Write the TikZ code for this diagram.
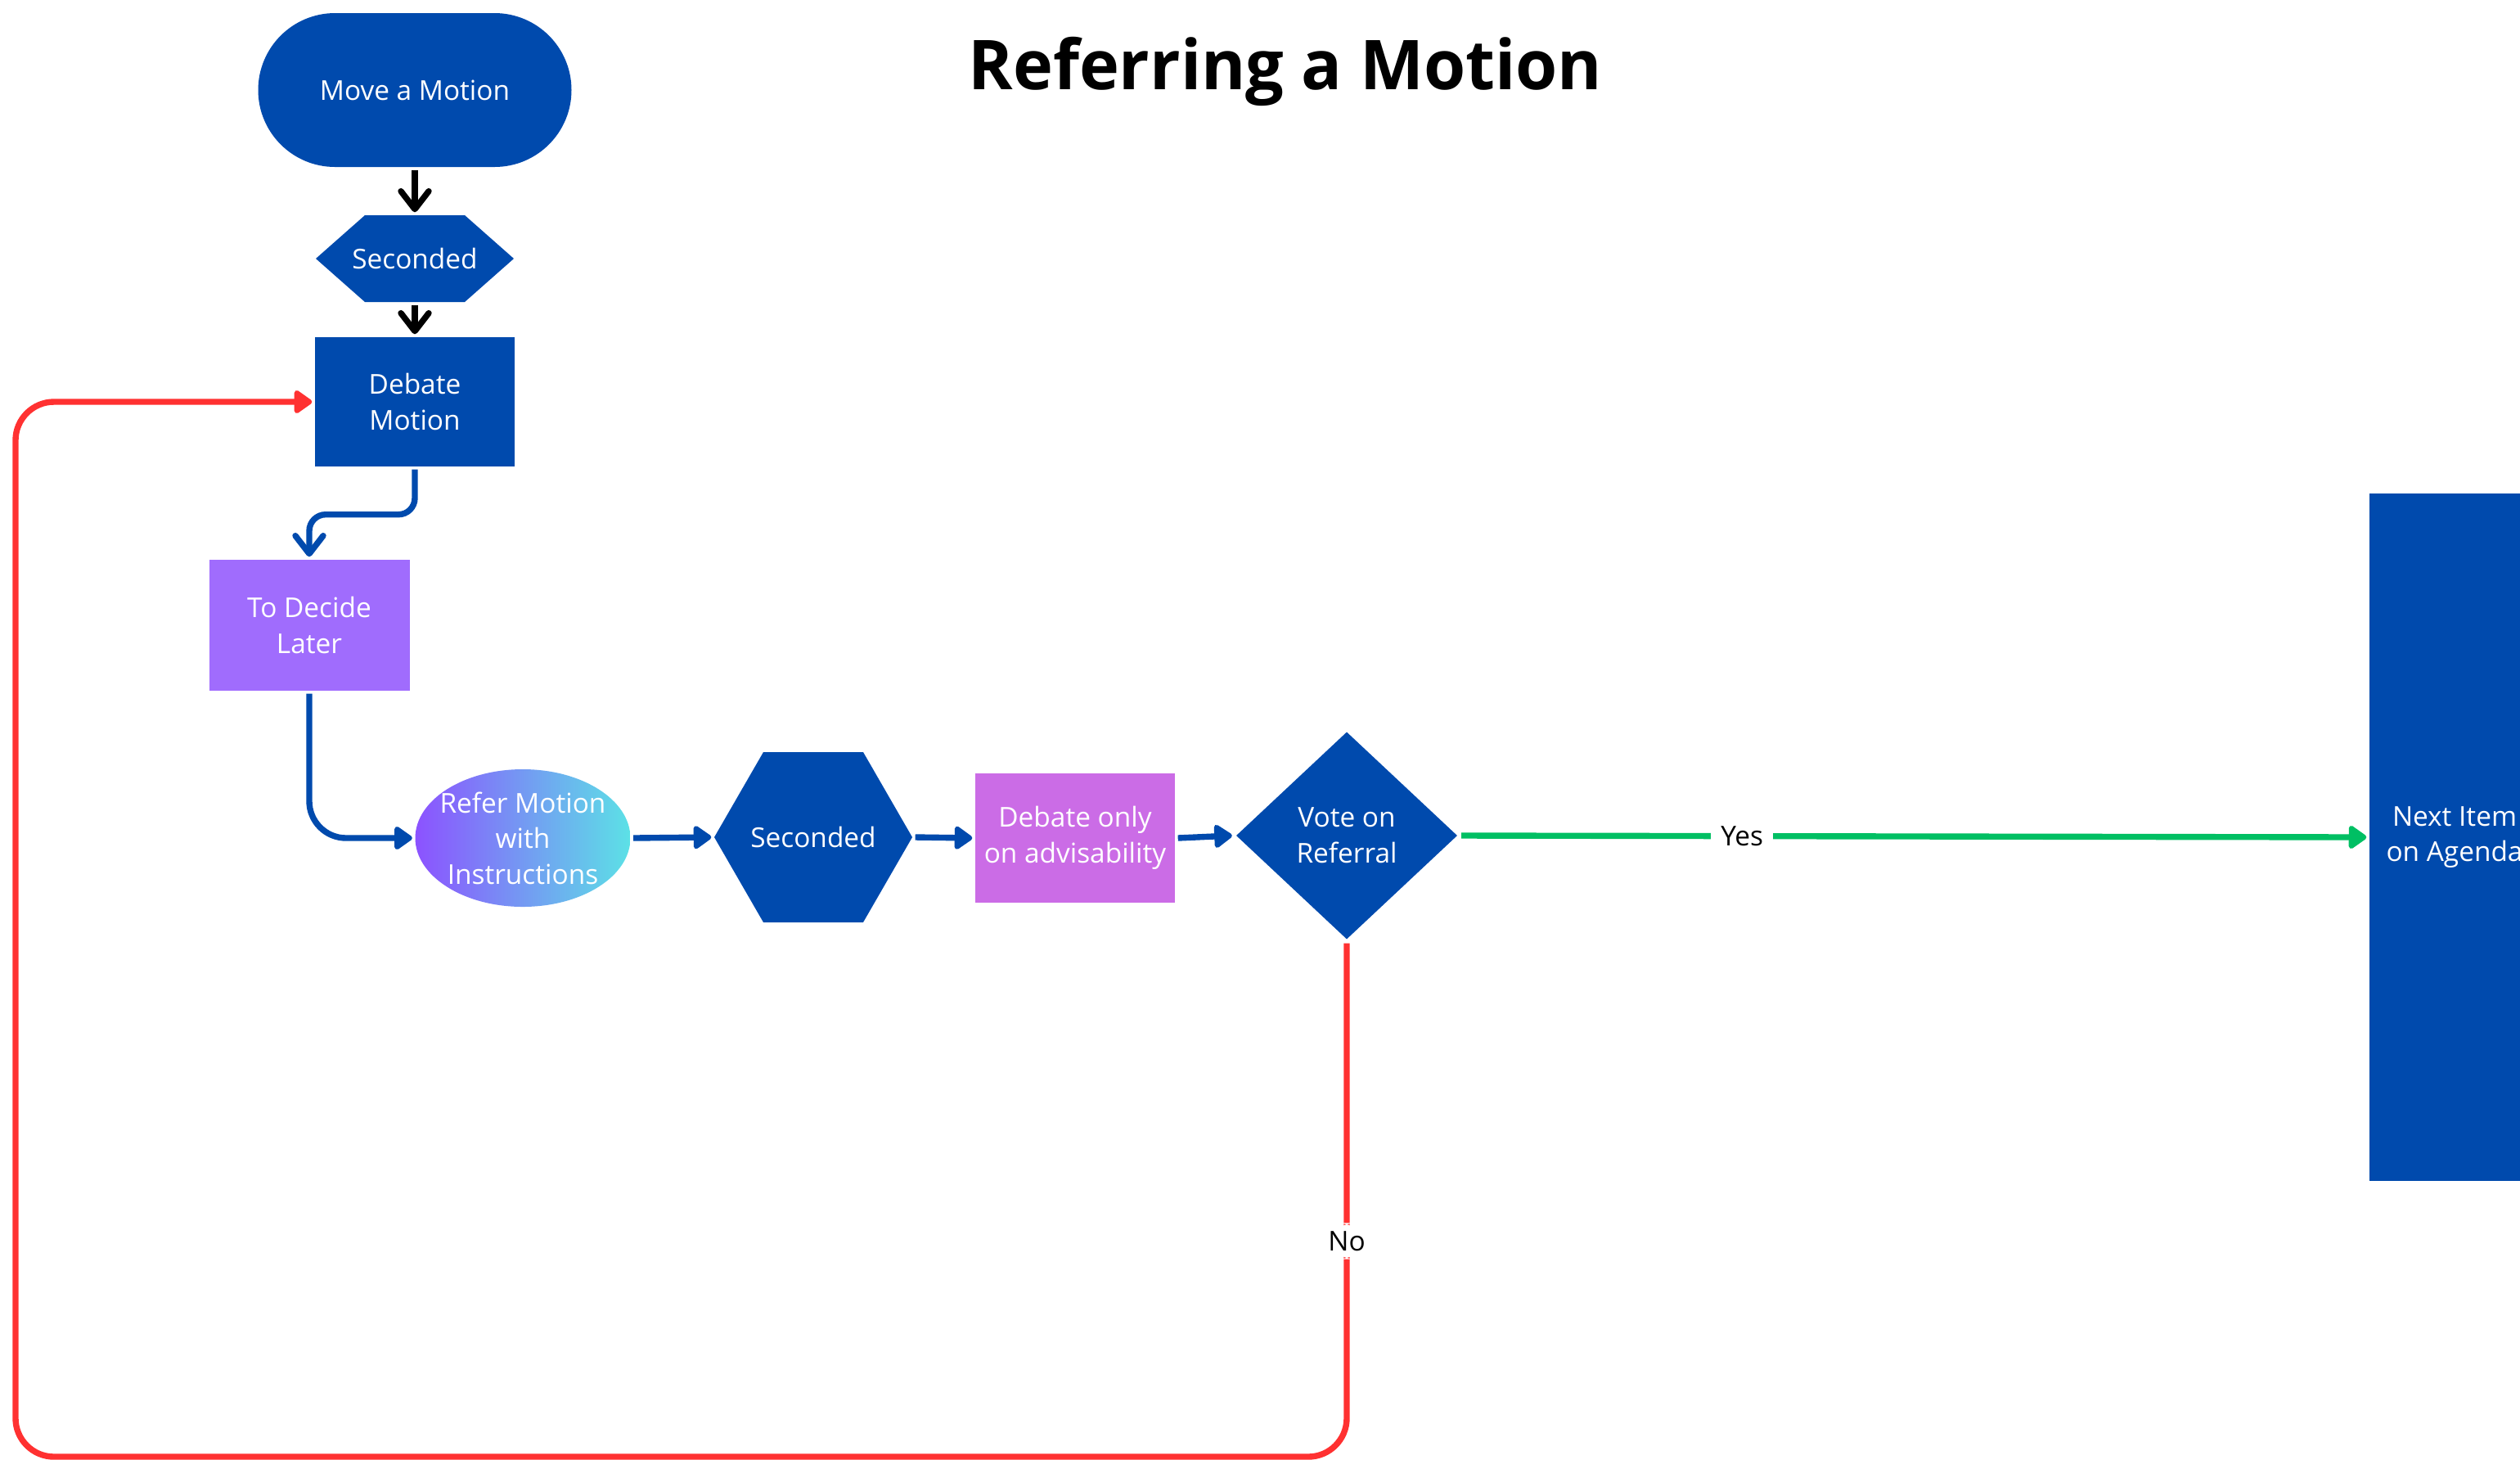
\documentclass[tikz,border=0pt]{standalone}
\usepackage{fontspec}
\setmainfont{Open Sans}
\newfontfamily\titlefont{Open Sans}[FakeStretch=0.985]
\usetikzlibrary{arrows.meta,shapes.geometric}
\definecolor{motionblue}{HTML}{004AAD}
\definecolor{laterpurple}{HTML}{A06CFD}
\definecolor{advisviolet}{HTML}{CB6CE6}
\definecolor{gradviolet}{HTML}{8C52FF}
\definecolor{gradcyan}{HTML}{5CE1E6}
\definecolor{loopred}{HTML}{FF3131}
\definecolor{yesgreen}{HTML}{00BF63}

\begin{document}
\begin{tikzpicture}[
        line width=2.1pt,
        every node/.style={font=\fontsize{9.5pt}{12.4pt}\selectfont, text=white, align=center, inner sep=0pt},
        blockbox/.style={fill=motionblue, minimum width=2.44cm, minimum height=1.58cm},
        hexbox/.style={minimum width=2.42cm, minimum height=#1,
          path picture={\fill[motionblue] (path picture bounding box.west)
            -- ([xshift=0.6cm]path picture bounding box.north west)
            -- ([xshift=-0.6cm]path picture bounding box.north east)
            -- (path picture bounding box.east)
            -- ([xshift=-0.6cm]path picture bounding box.south east)
            -- ([xshift=0.6cm]path picture bounding box.south west) -- cycle;}},
        chevron/.style={-{Straight Barb[length=2.2mm,width=3.4mm,round]}},
        flow/.style={motionblue, -{Triangle[length=2.4mm,width=3.2mm,round]}},
        lbl/.style={fill=white, text=black, inner xsep=1.2mm, inner ysep=1mm}
    ]
    \useasboundingbox (0,0) rectangle (30.8,-17.83);

    % Title
    \node[text=black, anchor=base, font=\titlefont\bfseries\fontsize{23.9pt}{28pt}\selectfont] (title) at (15.71,-1.09) {Referring a Motion};

    % Top column: motion, seconding, debate
    \node[fill=motionblue, rounded corners=0.94cm, minimum width=3.83cm, minimum height=1.88cm] (move) at (5.07,-1.10) {Move a Motion};
    \node[hexbox=1.06cm] (sec1) at (5.07,-3.16) {Seconded};
    \node[blockbox] (debate) at (5.07,-4.91) {Debate\\Motion};
    \node[blockbox, fill=laterpurple, minimum width=2.45cm, minimum height=1.6cm] (later) at (3.78,-7.64) {To Decide\\Later};

    % Referral row
    \node[ellipse, left color=gradviolet, right color=gradcyan, inner xsep=-0.1cm, minimum width=2.63cm, minimum height=1.68cm] (refer) at (6.39,-10.24) {Refer Motion\\with\\Instructions};
    \node[hexbox=2.08cm] (sec2) at (9.94,-10.23) {Seconded};
    \node[blockbox, fill=advisviolet] (advis) at (13.14,-10.24) {Debate only\\on advisability};
    \node[diamond, fill=motionblue, minimum width=2.73cm, minimum height=2.56cm] (vote) at (16.46,-10.21) {Vote on\\Referral};
    \node[fill=motionblue, minimum width=2.08cm, minimum height=8.40cm] (next) at (30.00,-10.23) {Next Item\\on Agenda};

    % Connectors
    \draw[chevron] (move) -- (sec1);
    \draw[chevron] (sec1) -- (debate);
    \draw[chevron, motionblue, rounded corners=0.2cm] (debate.south) -- ++(0,-0.55) -| (later.north);
    \draw[flow, rounded corners=0.45cm] (later.south) |- (refer.west);
    \draw[flow] (refer.east) -- (sec2.west);
    \draw[flow] (sec2.east) -- (advis.west);
    \draw[flow] (advis.east) -- (vote.west);

    % Yes: on to the next item
    \draw[yesgreen, -{Triangle[length=2.4mm,width=3.2mm,round]}] (vote.east) -- node[lbl, pos=0.31] {Yes} (next.west);

    % No: back to debate
    \coordinate (loopturn) at (0.19,-17.80);
    \draw[loopred, -{Triangle[length=2.4mm,width=3.2mm,round]}, rounded corners=0.47cm]
      (vote.south) |- node[lbl, pos=0.29] {No} (loopturn) |- (debate.west);
\end{tikzpicture}
\end{document}
